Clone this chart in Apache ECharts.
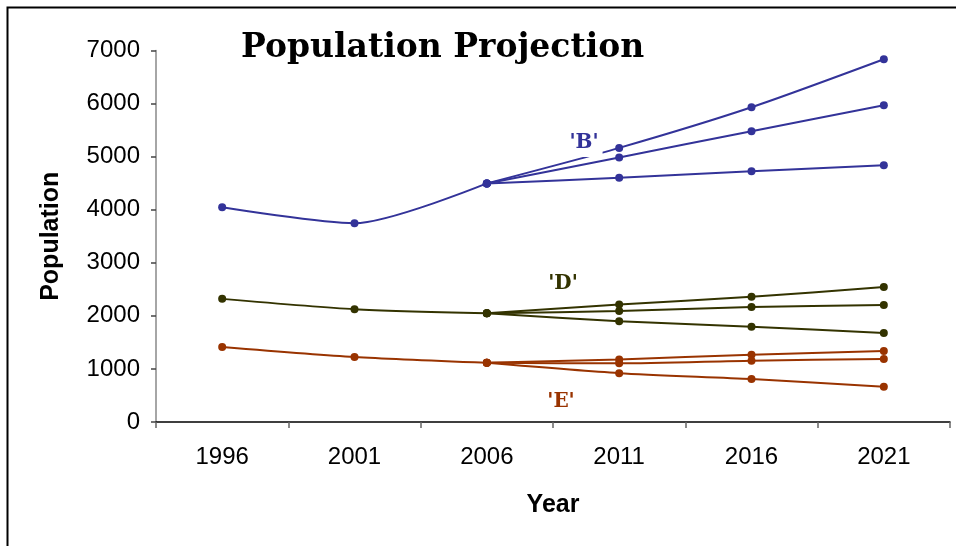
<!DOCTYPE html>
<html>
<head>
<meta charset="utf-8">
<script src="https://cdn.jsdelivr.net/npm/echarts@6/dist/echarts.min.js"></script>
<style>
html,body{margin:0;padding:0;background:#fff;}
#chart{width:956px;height:546px;}
</style>
</head>
<body>
<div id="chart"></div>
<script>
// ---- data ----
const years = ['1996', '2001', '2006', '2011', '2016', '2021'];
const yTicks = [0, 1000, 2000, 3000, 4000, 5000, 6000, 7000];

const bHistory = [4045, 3745, 4495, null, null, null];
const bHigh    = [null, null, 4495, 5165, 5930, 6834];
const bMid     = [null, null, 4495, 4985, 5479, 5968];
const bLow     = [null, null, 4495, 4600, 4726, 4839];

const dHistory = [2320, 2125, 2050, null, null, null];
const dHigh    = [null, null, 2050, 2215, 2360, 2543];
const dMid     = [null, null, 2050, 2090, 2166, 2203];
const dLow     = [null, null, 2050, 1900, 1796, 1677];

const eHistory = [1415, 1225, 1115, null, null, null];
const eHigh    = [null, null, 1115, 1180, 1268, 1338];
const eMid     = [null, null, 1115, 1105, 1156, 1187];
const eLow     = [null, null, 1115, 920, 811, 666];

const colB = '#333399', colD = '#333300', colE = '#993300';

function line(name, data, color) {
  return {
    name: name, type: 'line', data: data, smooth: 0.25,
    connectNulls: false,
    symbol: 'circle', symbolSize: 8, showSymbol: true,
    lineStyle: { color: color, width: 2 },
    itemStyle: { color: color },
    emphasis: { disabled: true },
    z: 3
  };
}

const chart = echarts.init(document.getElementById('chart'), null, { renderer: 'canvas' });
chart.setOption({
  animation: false,
  backgroundColor: '#fff',
  title: {
    text: 'Population Projection',
    left: 236, top: 27,
    textStyle: { fontFamily: 'DejaVu Serif', fontWeight: 'bold', fontSize: 33, color: '#000' }
  },
  grid: { left: 156, right: 6, top: 50.5, bottom: 124, containLabel: false },
  xAxis: {
    type: 'category', data: years, boundaryGap: true,
    name: 'Year', nameLocation: 'middle', nameGap: 71,
    nameTextStyle: { fontFamily: 'Liberation Sans', fontWeight: 'bold', fontSize: 25, color: '#000' },
    axisLine: { lineStyle: { color: '#000', width: 1.5 } },
    axisTick: { show: true, length: 6, lineStyle: { color: '#666', width: 1.5 } },
    axisLabel: { fontFamily: 'Liberation Sans', fontSize: 24, color: '#000', margin: 23 },
    splitLine: { show: false }
  },
  yAxis: {
    type: 'value', min: yTicks[0], max: yTicks[yTicks.length - 1], interval: 1000,
    name: 'Population', nameLocation: 'middle', nameGap: 92, nameRotate: 90,
    nameTextStyle: { fontFamily: 'Liberation Sans', fontWeight: 'bold', fontSize: 25, color: '#000' },
    axisLine: { show: true, lineStyle: { color: '#888', width: 1.5 } },
    axisTick: { show: true, length: 5, lineStyle: { color: '#444', width: 1.5 } },
    axisLabel: { fontFamily: 'Liberation Sans', fontSize: 24, color: '#000', margin: 16,
                 formatter: function (v) { return String(v); } },
    splitLine: { show: false }
  },
  series: [
    line('B history', bHistory, colB),
    line('B high', bHigh, colB),
    line('B mid', bMid, colB),
    line('B low', bLow, colB),
    line('D history', dHistory, colD),
    line('D high', dHigh, colD),
    line('D mid', dMid, colD),
    line('D low', dLow, colD),
    line('E history', eHistory, colE),
    line('E high', eHigh, colE),
    line('E mid', eMid, colE),
    line('E low', eLow, colE)
  ],
  graphic: [
    {
      type: 'rect', z: 0, silent: true,
      shape: { x: 7.5, y: 7.5, width: 1000, height: 600 },
      style: { fill: 'none', stroke: '#000', lineWidth: 2 }
    },
    {
      type: 'text', x: 585, y: 143, z: 50,
      style: { text: "'B'", fill: colB, font: 'bold 20px "DejaVu Serif"',
               align: 'center', verticalAlign: 'middle',
               backgroundColor: '#fff', padding: [3, 4, 5, 2] }
    },
    {
      type: 'text', x: 563, y: 284, z: 50,
      style: { text: "'D'", fill: colD, font: 'bold 20px "DejaVu Serif"',
               align: 'center', verticalAlign: 'middle' }
    },
    {
      type: 'text', x: 561, y: 402, z: 50,
      style: { text: "'E'", fill: colE, font: 'bold 20px "DejaVu Serif"',
               align: 'center', verticalAlign: 'middle' }
    }
  ]
});
</script>
</body>
</html>
